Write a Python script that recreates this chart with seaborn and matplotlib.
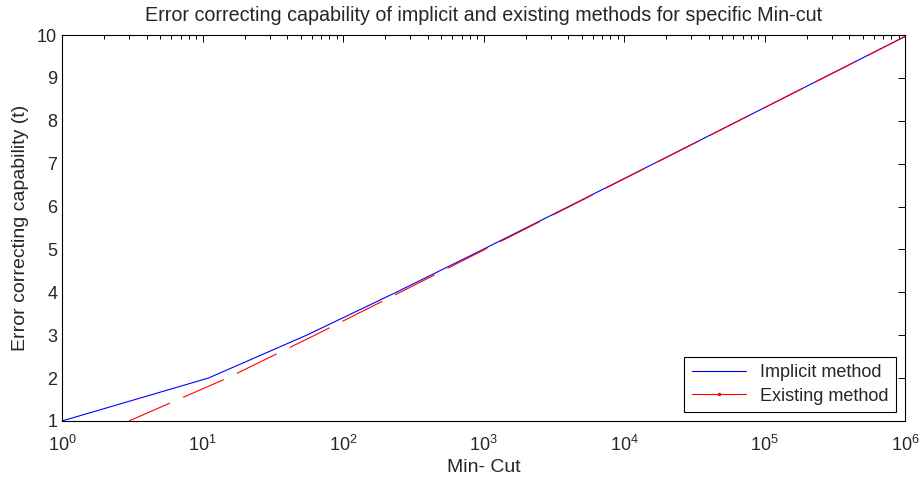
import numpy as np
import pandas as pd
import matplotlib
matplotlib.use("Agg")
import matplotlib.pyplot as plt
import seaborn as sns

# error correcting capability t, and the min-cut
t_values = [1, 2, 3, 4, 5, 6, 7, 8, 9, 10]
implicit_mincut = [1, 11, 55, 239, 991, 4031, 16255, 65279, 261631, 1047551]
existing_mincut = [3, 15, 63, 255, 1023, 4095, 16383, 65535, 262143, 1048575]

df_imp = pd.DataFrame({"mincut": implicit_mincut, "t": t_values})
df_ex = pd.DataFrame({"mincut": existing_mincut, "t": t_values})

sns.set_style("white")
plt.rcParams['font.family'] = ['Liberation Sans', 'DejaVu Sans']

fig = plt.figure(figsize=(9.23, 4.8), dpi=100)
ax = fig.add_axes([0.0672, 0.123, 0.9133, 0.804])

sns.lineplot(data=df_imp, x="mincut", y="t", ax=ax, color=(0, 0, 1),
             linewidth=0.8, label="Implicit method", sort=False)
sns.lineplot(data=df_ex, x="mincut", y="t", ax=ax, color=(1, 0, 0),
             linewidth=0.8, marker=".", markersize=0.5, markeredgewidth=0,
             dashes=False, label="Existing method", sort=False)
ax.lines[1].set_dashes((40, 13))

ax.set_xscale("log")
ax.set_xlim(1, 1e6)
ax.set_ylim(1, 10)
ax.set_yticks(range(1, 11))

ax.set_title("Error correcting capability of implicit and existing methods for specific Min-cut",
             fontsize=14.2, pad=10)
ax.set_xlabel("Min- Cut", fontsize=14, labelpad=3)
ax.set_ylabel("Error correcting capability (t)", fontsize=14, labelpad=6)

ax.tick_params(which="both", direction="in", top=True, right=True,
               labelsize=13, width=0.7, color="black")
ax.tick_params(which="major", length=5)
ax.tick_params(which="minor", length=3)
ax.tick_params(axis="x", which="major", pad=10)
for s in ax.spines.values():
    s.set_color("black")
    s.set_linewidth(0.8)

leg = ax.legend(loc="lower right", fontsize=13, fancybox=False, framealpha=1,
                edgecolor="black", borderaxespad=0.5, handlelength=3.0,
                borderpad=0.4, labelspacing=0.35)
leg.get_frame().set_linewidth(0.8)
leg.legend_handles[1].set_marker(".")
leg.legend_handles[1].set_markersize(5)
leg.legend_handles[1].set_linestyle("-")

fig.savefig("out.png", dpi=100, facecolor="white")
